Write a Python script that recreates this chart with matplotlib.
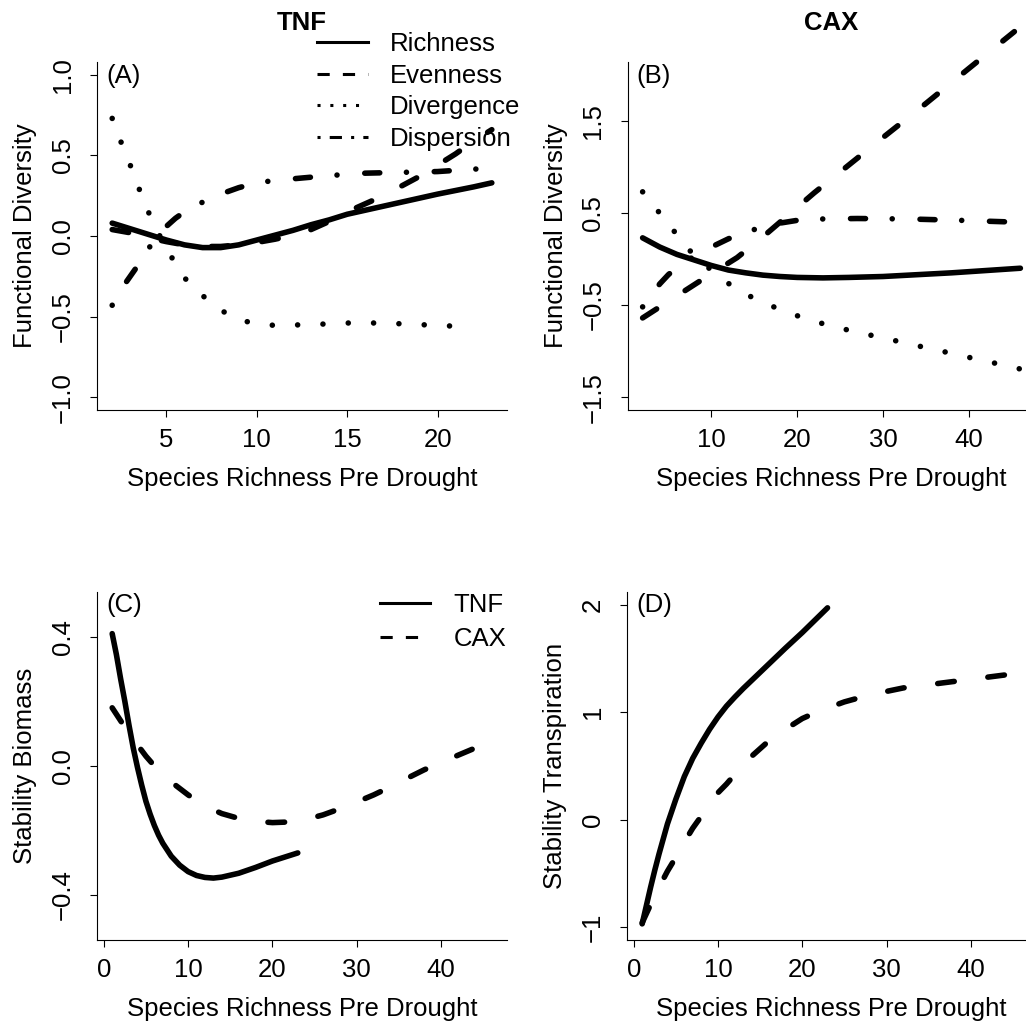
import matplotlib
matplotlib.use("Agg")
import matplotlib.pyplot as plt
from matplotlib.lines import Line2D

plt.rcParams['font.family'] = ['Liberation Sans', 'DejaVu Sans']

# ---------------- data ----------------
# (A) TNF, functional diversity
a_x_rich = [2, 3, 4, 5, 6, 7, 8, 9, 10, 11, 12, 13, 14, 15, 16, 18, 20, 22, 23]
a_rich = [0.08, 0.045, 0.01, -0.025, -0.055, -0.072, -0.072, -0.055, -0.025, 0.005,
          0.035, 0.07, 0.10, 0.135, 0.16, 0.21, 0.26, 0.305, 0.33]
a_x_even = [2, 3, 4, 5, 6, 7, 8, 9, 10, 11, 12, 13, 14, 15, 16, 17, 18, 19, 20, 21, 22, 23]
a_even = [0.04, 0.02, -0.01, -0.035, -0.055, -0.065, -0.065, -0.055, -0.04, -0.02, 0.005,
          0.04, 0.09, 0.15, 0.2, 0.25, 0.31, 0.37, 0.44, 0.51, 0.59, 0.66]
a_x_div = [2, 2.5, 3, 3.5, 4, 4.5, 5, 5.5, 6, 7, 8, 9, 10, 11, 13, 15, 17, 19, 21, 22]
a_div = [0.73, 0.58, 0.44, 0.29, 0.15, 0.03, -0.08, -0.17, -0.26, -0.37, -0.46, -0.52,
         -0.545, -0.555, -0.55, -0.54, -0.54, -0.55, -0.56, -0.57]
a_x_disp = [2, 2.5, 3, 3.5, 4, 4.5, 5, 5.5, 6, 7, 8, 9, 10, 11, 12, 13, 14, 16, 18, 20, 22, 23]
a_disp = [-0.43, -0.33, -0.25, -0.17, -0.08, 0.0, 0.06, 0.11, 0.15, 0.21, 0.26, 0.30,
          0.33, 0.345, 0.355, 0.365, 0.375, 0.39, 0.395, 0.40, 0.415, 0.42]

# (B) CAX, functional diversity
b_x_rich = [2, 4, 6, 8, 10, 12, 14, 16, 18, 20, 23, 26, 30, 34, 38, 42, 46]
b_rich = [0.23, 0.13, 0.05, -0.01, -0.07, -0.12, -0.15, -0.175, -0.19, -0.2, -0.205,
          -0.2, -0.19, -0.17, -0.15, -0.125, -0.1]
b_x_even = [2, 5, 8, 10, 13, 16, 19, 22, 26, 30, 35, 40, 45.3]
b_even = [-0.64, -0.46, -0.28, -0.16, 0.015, 0.24, 0.48, 0.72, 1.02, 1.32, 1.69, 2.07, 2.47]
b_x_div = [2, 3.8, 5.6, 7.4, 9.6, 11.9, 14.4, 17, 19.8, 22.5, 25.4, 28.2, 31.1, 33.9,
           36.8, 39.6, 42.5, 46]
b_div = [0.73, 0.52, 0.31, 0.1, -0.09, -0.26, -0.4, -0.51, -0.61, -0.69, -0.76, -0.82,
         -0.88, -0.94, -1.0, -1.06, -1.12, -1.195]
b_x_disp = [2, 3, 4, 5, 6, 8, 10, 12, 14, 16, 18, 20, 23, 27, 33, 39, 44, 46]
b_disp = [-0.52, -0.39, -0.27, -0.17, -0.09, 0.03, 0.13, 0.22, 0.29, 0.35, 0.39, 0.42,
          0.435, 0.44, 0.435, 0.42, 0.405, 0.4]

# (C) stability of biomass
c_x_tnf = [1, 1.5, 2, 2.5, 3, 3.5, 4, 4.5, 5, 5.5, 6, 6.5, 7, 8, 9, 10, 11, 12, 13, 14,
           16, 18, 20, 23]
c_tnf = [0.41, 0.345, 0.27, 0.2, 0.125, 0.055, -0.005, -0.06, -0.11, -0.15, -0.185,
         -0.215, -0.24, -0.28, -0.308, -0.328, -0.34, -0.346, -0.348, -0.345, -0.333,
         -0.315, -0.295, -0.27]
c_x_cax = [1, 2, 3, 4, 5, 6, 7, 8, 9, 10, 12, 14, 16, 18, 20, 22, 24, 26, 28, 30, 32,
           34, 36, 38, 40, 42, 44]
c_cax = [0.18, 0.14, 0.1, 0.065, 0.03, 0.0, -0.025, -0.05, -0.07, -0.09, -0.125, -0.148,
         -0.163, -0.172, -0.176, -0.174, -0.166, -0.152, -0.133, -0.112, -0.09, -0.065,
         -0.038, -0.012, 0.01, 0.033, 0.055]

# (D) stability of transpiration
d_x_tnf = [1, 1.5, 2, 2.5, 3, 3.5, 4, 5, 6, 7, 8, 9, 10, 11, 12, 13, 14, 16, 18, 20, 23]
d_tnf = [-0.97, -0.8, -0.63, -0.47, -0.32, -0.18, -0.04, 0.19, 0.4, 0.57, 0.71, 0.84,
         0.955, 1.055, 1.14, 1.22, 1.295, 1.445, 1.595, 1.74, 1.97]
d_x_cax = [1, 2, 3, 4, 5, 6, 7, 8, 9, 10, 11, 12, 14, 16, 18, 20, 22, 25, 28, 32, 36, 40, 44]
d_cax = [-0.96, -0.79, -0.63, -0.48, -0.35, -0.21, -0.08, 0.03, 0.15, 0.25, 0.33, 0.42,
         0.59, 0.73, 0.84, 0.94, 1.01, 1.095, 1.16, 1.225, 1.265, 1.305, 1.345]

fd_names = ['Richness', 'Evenness', 'Divergence', 'Dispersion']
site_names = ['TNF', 'CAX']
xlab = 'Species Richness Pre Drought'
M = '\u2212'

# ---------------- styling ----------------
FS = 18.5
LW = 4.0
LS = {'solid': '-',
      'dash': (0, (3.0, 6.1)),
      'dot': (0, (0.01, 4.55)),
      'dashdot': (0, (0.01, 5.0, 2.7, 4.8))}
LEG_LS = {'solid': '-',
          'dash': (0, (4, 4.3)),
          'dot': (0, (1, 3.2)),
          'dashdot': (0, (1, 3, 4, 3))}

W, H = 1026, 1024
fig = plt.figure(figsize=(W / 100, H / 100), dpi=100)


def add_ax(left, top, right, bottom):
    return fig.add_axes([left / W, 1 - bottom / H, (right - left) / W, (bottom - top) / H])


def line(ax, x, y, kind):
    ax.plot(x, y, color='black', lw=LW, ls=LS[kind], dash_capstyle='round',
            solid_capstyle='round', clip_on=False)


def style(ax, xlim, ylim, xticks, yticks, yticklabels, ylab, letter):
    ax.set_xlim(xlim)
    ax.set_ylim(ylim)
    for s in ('top', 'right'):
        ax.spines[s].set_visible(False)
    for s in ('left', 'bottom'):
        ax.spines[s].set_linewidth(0.8)
    ax.set_xticks(xticks)
    ax.set_xticklabels([str(t) for t in xticks])
    ax.set_yticks(yticks)
    ax.set_yticklabels(yticklabels, rotation=90, va='center')
    ax.tick_params(length=5, width=0.8, labelsize=FS)
    ax.tick_params(axis='x', pad=8)
    ax.tick_params(axis='y', pad=11)
    ax.set_xlabel(xlab, fontsize=FS, va='center')
    ax.xaxis.set_label_coords(0.5, -0.197)
    ax.set_ylabel(ylab, fontsize=FS, va='center')
    ax.yaxis.set_label_coords(-0.176, 0.5)
    ax.text(0.022, 0.995, letter, transform=ax.transAxes, ha='left', va='top', fontsize=FS)


def handles(kinds):
    return [Line2D([], [], color='black', lw=2.2, ls=LEG_LS[k], dash_capstyle='butt')
            for k in kinds]


kinds4 = ['solid', 'dash', 'dot', 'dashdot']

# (A)
axA = add_ax(97, 62, 507, 410)
line(axA, a_x_rich, a_rich, 'solid')
line(axA, a_x_even, a_even, 'dash')
line(axA, a_x_div, a_div, 'dot')
line(axA, a_x_disp, a_disp, 'dashdot')
style(axA, (1.16, 23.84), (-1.08, 1.08), [5, 10, 15, 20], [-1, -0.5, 0, 0.5, 1],
      [M + '1.0', M + '0.5', '0.0', '0.5', '1.0'], 'Functional Diversity', '(A)')
axA.set_title(site_names[0], fontsize=FS, fontweight='bold', pad=23)
axA.legend(handles(kinds4), fd_names, loc='upper left', bbox_to_anchor=(0.5366, 1.086),
           frameon=False, fontsize=FS, handlelength=1.98, handletextpad=0.86,
           labelspacing=0.3, borderpad=0, borderaxespad=0)

# (B)
axB = add_ax(627.5, 62, 1035.5, 410)
line(axB, b_x_rich, b_rich, 'solid')
line(axB, b_x_even, b_even, 'dash')
line(axB, b_x_div, b_div, 'dot')
line(axB, b_x_disp, b_disp, 'dashdot')
style(axB, (0.24, 47.76), (-1.64, 2.14), [10, 20, 30, 40], [-1.5, -0.5, 0.5, 1.5],
      [M + '1.5', M + '0.5', '0.5', '1.5'], 'Functional Diversity', '(B)')
axB.set_title(site_names[1], fontsize=FS, fontweight='bold', pad=23)

# (C)
axC = add_ax(97, 591.7, 507, 940)
line(axC, c_x_tnf, c_tnf, 'solid')
line(axC, c_x_cax, c_cax, 'dash')
style(axC, (-0.8, 47.8), (-0.54, 0.54), [0, 10, 20, 30, 40], [-0.4, 0, 0.4],
      [M + '0.4', '0.0', '0.4'], 'Stability Biomass', '(C)')
axC.legend(handles(['solid', 'dash']), site_names, loc='upper left',
           bbox_to_anchor=(0.6905, 0.996), frameon=False, fontsize=FS, handlelength=1.95,
           handletextpad=0.9, labelspacing=0.39, borderpad=0, borderaxespad=0)

# (D)
axD = add_ax(627, 591.7, 1036.5, 940)
line(axD, d_x_tnf, d_tnf, 'solid')
line(axD, d_x_cax, d_cax, 'dash')
style(axD, (-0.8, 47.8), (-1.12, 2.12), [0, 10, 20, 30, 40], [-1, 0, 1, 2],
      [M + '1', '0', '1', '2'], 'Stability Transpiration', '(D)')

fig.savefig('out.png', dpi=100)
